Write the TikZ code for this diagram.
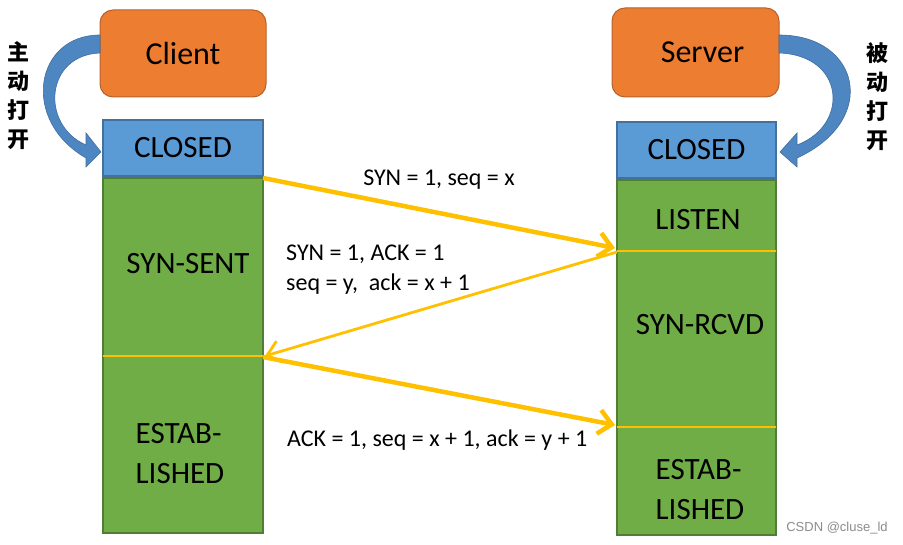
\documentclass[tikz,border=0pt]{standalone}
\usepackage{fontspec}
\setmainfont{Carlito}
\newfontfamily\cjk{Noto Sans CJK SC}
\newfontfamily\wmfont{Liberation Sans}
\usetikzlibrary{arrows.meta}
\definecolor{orgfill}{HTML}{ED7D31}
\definecolor{orgline}{HTML}{B8612A}
\definecolor{bluefill}{HTML}{5B9BD5}
\definecolor{blueline}{HTML}{41719C}
\definecolor{greenfill}{HTML}{70AD47}
\definecolor{greenline}{HTML}{507E32}
\definecolor{ylw}{HTML}{FFC000}
\definecolor{curvblue}{HTML}{4E86C2}
\definecolor{curvline}{HTML}{3F6E9E}
\tikzset{
  hostbox/.style={draw=orgline, line width=1pt, fill=orgfill, rounded corners=13pt, inner sep=0pt, font=\fontsize{32}{38}\selectfont},
  closedbox/.style={draw=blueline, line width=1.5pt, fill=bluefill, inner sep=0pt, font=\fontsize{31}{37}\selectfont},
  statebox/.style={draw=greenline, line width=1.5pt, fill=greenfill, inner sep=0pt},
  statetxt/.style={font=\fontsize{31}{40}\selectfont, inner sep=0pt, align=left},
  msgtxt/.style={font=\fontsize{24}{30}\selectfont, inner sep=0pt},
  divline/.style={draw=ylw, line width=1.5pt},
  thickmsg/.style={draw=ylw, line width=4.5pt, -{Straight Barb[length=13pt,width=24pt,line width=4.5pt]}},
  thinmsg/.style={draw=ylw, line width=2.8pt, -{Straight Barb[length=13pt,width=22pt,line width=2.8pt]}},
  cjktxt/.style={font=\cjk\bfseries\fontsize{22}{29}\selectfont, inner sep=0pt, align=center},
  curvarrow/.style={fill=curvblue, draw=curvline, line width=0.6pt}
}
\begin{document}
\begin{tikzpicture}[x=1pt,y=-1pt]
\useasboundingbox (0,0) rectangle (903,545);
\fill[white] (0,0) rectangle (903,545);

% client side
\node[hostbox, minimum width=166pt, minimum height=87pt] (client) at (183,53.5) {Client};
\node[closedbox, minimum width=160pt, minimum height=56pt] (cclosed) at (183,148) {CLOSED};
\node[statebox, minimum width=160pt, minimum height=355pt] (cgreen) at (183,355.5) {};
\coordinate (cdivL) at (103,356);
\coordinate (cdivR) at (263,356);
\draw[divline] (cdivL) -- (cdivR);
\node[statetxt] (synsent) at (188,264) {SYN-SENT};
\node[statetxt] (cestab) at (180,454) {ESTAB-\\LISHED};

% server side
\node[hostbox, minimum width=167pt, minimum height=89pt] (server) at (695.5,52.5) {\hspace*{14pt}Server};
\node[closedbox, minimum width=159pt, minimum height=56pt] (sclosed) at (696.5,150) {CLOSED};
\node[statebox, minimum width=159pt, minimum height=355pt] (sgreen) at (696.5,357.5) {};
\coordinate (sdiv1L) at (617,251);
\coordinate (sdiv1R) at (776,251);
\coordinate (sdiv2L) at (617,427);
\coordinate (sdiv2R) at (776,427);
\draw[divline] (sdiv1L) -- (sdiv1R);
\draw[divline] (sdiv2L) -- (sdiv2R);
\node[statetxt] (listen) at (698,220) {LISTEN};
\node[statetxt] (synrcvd) at (700,325) {SYN-RCVD};
\node[statetxt] (sestab) at (700,490) {ESTAB-\\LISHED};

% messages
\coordinate (m1s) at (263,178);
\coordinate (m1e) at (615,248);
\coordinate (m2s) at (617,252);
\coordinate (m2e) at (265,356);
\coordinate (m3s) at (263,357);
\coordinate (m3e) at (615,425);
\draw[thickmsg] (m1s) -- (m1e);
\draw[thinmsg] (m2s) -- (m2e);
\draw[thickmsg] (m3s) -- (m3e);
\node[msgtxt] (l1) at (439,180) {SYN = 1, seq = x};
\node[msgtxt, anchor=west] (l2) at (286,254) {SYN = 1, ACK = 1};
\node[msgtxt, anchor=west] (l3) at (286,284) {seq = y,\ \ ack = x + 1};
\node[msgtxt, anchor=west] (l4) at (287,440) {ACK = 1, seq = x + 1, ack = y + 1};

% curved arrows
\path[curvarrow] (100,35) .. controls (35,35) and (20,120) .. (86,158)
  -- (86,167) -- (101,152) -- (86,133) -- (86,145)
  .. controls (40,125) and (45,55) .. (100,53) -- cycle;
\path[curvarrow] (779,35) .. controls (860,35) and (880,120) .. (797,158)
  -- (797,167) -- (780,152) -- (797,133) -- (797,145)
  .. controls (850,125) and (845,55) .. (779,53) -- cycle;

\node[cjktxt] (zhudong) at (19,96) {主\\动\\打\\开};
\node[cjktxt] (beidong) at (877,97) {被\\动\\打\\开};

\node[font=\wmfont\fontsize{13}{15}\selectfont, text=black!45, inner sep=0pt] (wm) at (837,528) {CSDN @cluse\_ld};
\end{tikzpicture}
\end{document}
